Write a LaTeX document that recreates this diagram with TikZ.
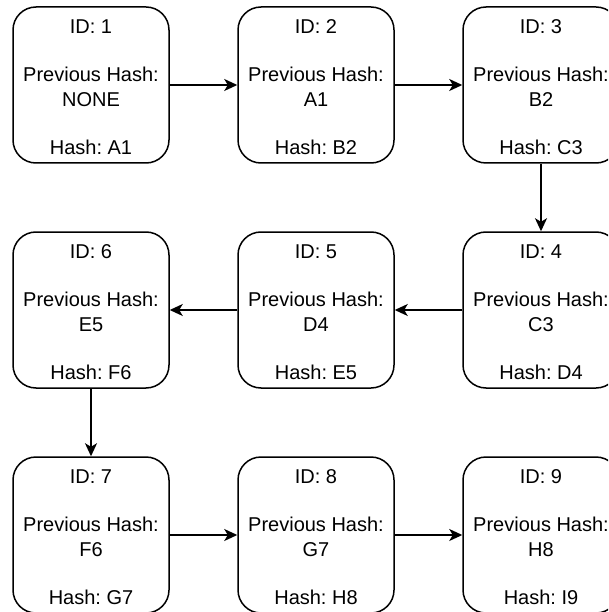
\documentclass[tikz,border=0pt]{standalone}
\usepackage{fontspec}
\setmainfont{Liberation Sans}
\usetikzlibrary{arrows.meta}
\frenchspacing
\newcommand{\blockinfo}[3]{\rule{0pt}{18pt}ID: #1\\[24.2pt]Previous Hash:\\#2\\[24.2pt]Hash: #3}
\begin{document}
\begin{tikzpicture}[x=1pt,y=-1pt,
  block/.style={draw, line width=1.5pt, rounded corners=23pt,
    minimum width=156pt, minimum height=156pt, inner sep=0pt,
    align=center, font=\fontsize{20}{24.2}\selectfont\frenchspacing},
  link/.style={draw, line width=1.5pt,
    -{Stealth[length=13pt,width=12pt,inset=3.5pt]}}]
\useasboundingbox (0,0) rectangle (608,612);
\clip (0,0) rectangle (608,612);

% row 1 (left to right)
\node[block] (b1) at (91,85)  {\blockinfo{1}{NONE}{A1}};
\node[block] (b2) at (316,85) {\blockinfo{2}{A1}{B2}};
\node[block] (b3) at (541,85) {\blockinfo{3}{B2}{C3}};
% row 2 (right to left)
\node[block] (b4) at (541,310) {\blockinfo{4}{C3}{D4}};
\node[block] (b5) at (316,310) {\blockinfo{5}{D4}{E5}};
\node[block] (b6) at (91,310)  {\blockinfo{6}{E5}{F6}};
% row 3 (left to right)
\node[block] (b7) at (91,535)  {\blockinfo{7}{F6}{G7}};
\node[block] (b8) at (316,535) {\blockinfo{8}{G7}{H8}};
\node[block] (b9) at (541,535) {\blockinfo{9}{H8}{I9}};

% chain links
\draw[link] (b1) -- (b2);
\draw[link] (b2) -- (b3);
\draw[link] (b3) -- (b4);
\draw[link] (b4) -- (b5);
\draw[link] (b5) -- (b6);
\draw[link] (b6) -- (b7);
\draw[link] (b7) -- (b8);
\draw[link] (b8) -- (b9);
\end{tikzpicture}
\end{document}
